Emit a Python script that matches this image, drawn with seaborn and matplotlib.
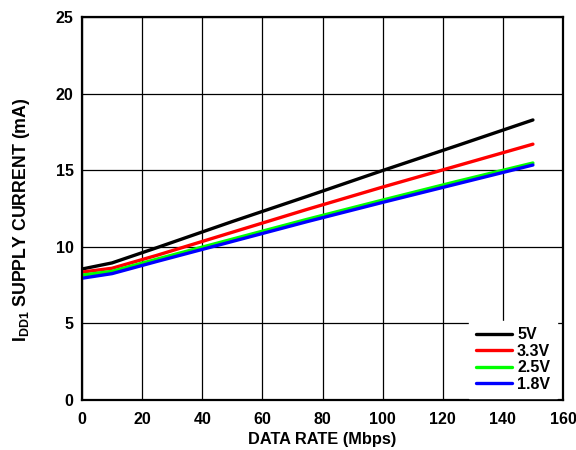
import matplotlib
matplotlib.use("Agg")
import matplotlib.pyplot as plt
import seaborn as sns
import pandas as pd

# Supply current vs data rate for each supply voltage
data_rate = [0, 10, 25, 50, 75, 100, 125, 150]
i_5v0 = [8.55, 8.95, 9.95, 11.65, 13.30, 14.98, 16.62, 18.28]
i_3v3 = [8.35, 8.60, 9.45, 10.95, 12.45, 13.90, 15.30, 16.70]
i_2v5 = [8.15, 8.40, 9.20, 10.50, 11.80, 13.05, 14.28, 15.47]
i_1v8 = [7.95, 8.25, 9.05, 10.35, 11.65, 12.90, 14.12, 15.34]
series_labels = ["5V", "3.3V", "2.5V", "1.8V"]
series_colors = ["#000000", "#ff0000", "#00ff00", "#0000ff"]
x_ticks = list(range(0, 161, 20))
y_ticks = list(range(0, 26, 5))

rows = []
for label, vals in zip(series_labels, [i_5v0, i_3v3, i_2v5, i_1v8]):
    for x, y in zip(data_rate, vals):
        rows.append({"rate": x, "current": y, "supply": label})
df = pd.DataFrame(rows)

sns.set_style("white")
plt.rcParams["font.family"] = "Liberation Sans"
plt.rcParams["font.weight"] = "bold"
plt.rcParams["text.color"] = "black"
plt.rcParams["axes.labelcolor"] = "black"
plt.rcParams["xtick.color"] = "black"
plt.rcParams["ytick.color"] = "black"
plt.rcParams["mathtext.fontset"] = "custom"
plt.rcParams["mathtext.rm"] = "Liberation Sans:bold"
plt.rcParams["mathtext.it"] = "Liberation Sans:bold"
plt.rcParams["mathtext.bf"] = "Liberation Sans:bold"

FONT = "Liberation Sans"
fig = plt.figure(figsize=(5.76, 4.5), dpi=100)
ax = fig.add_axes([0.1424, 0.1111, 0.8350, 0.8511])

sns.lineplot(data=df, x="rate", y="current", hue="supply",
             hue_order=series_labels, palette=series_colors,
             linewidth=2.4, ax=ax, legend=True)

ax.set_xlim(0, 160)
ax.set_ylim(0, 25)
ax.set_xticks(x_ticks)
ax.set_yticks(y_ticks)
ax.set_xticklabels([str(v) for v in x_ticks], family=FONT, weight="bold", color="black")
ax.set_yticklabels([str(v) for v in y_ticks], family=FONT, weight="bold", color="black")
ax.grid(True, color="black", linewidth=0.9)
ax.set_axisbelow(True)
for s in ax.spines.values():
    s.set_color("black")
    s.set_linewidth(1.6)
ax.tick_params(length=0, labelsize=11.5, labelcolor="black")
ax.tick_params(axis="x", pad=8.5)
ax.tick_params(axis="y", pad=6)

ax.set_xlabel("DATA RATE (Mbps)", fontsize=11.8, family=FONT,
              weight="bold", color="black", labelpad=4)
ax.set_ylabel(r"$\mathrm{I_{DD1}}$ SUPPLY CURRENT (mA)", fontsize=12.8,
              family=FONT, weight="bold", color="black")
ax.yaxis.set_label_coords(-0.105, 0.47)

leg = ax.legend(loc="lower right", bbox_to_anchor=(0.99, 0.0),
                frameon=True, fancybox=False,
                edgecolor="white", framealpha=1.0,
                prop={"family": FONT, "weight": "bold", "size": 11.5},
                handlelength=2.3, handletextpad=0.3, labelspacing=0.1,
                borderaxespad=0.1, borderpad=0.4)
for t in leg.get_texts():
    t.set_color("black")
for h in leg.get_lines():
    h.set_linewidth(2.4)

fig.savefig("out.png", dpi=100)
